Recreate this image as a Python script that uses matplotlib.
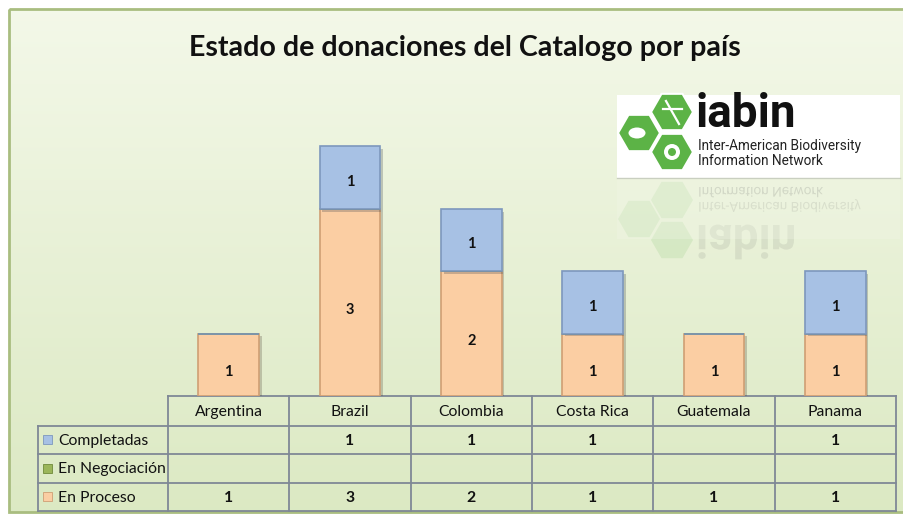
import numpy as np
import matplotlib
matplotlib.use("Agg")
import matplotlib.pyplot as plt
from matplotlib.patches import Rectangle, RegularPolygon, PathPatch, Ellipse, Circle
from matplotlib.textpath import TextPath
from matplotlib.font_manager import FontProperties
from matplotlib.transforms import Affine2D
import matplotlib.patheffects as pe

# ---------------- data ----------------
countries = ["Argentina", "Brazil", "Colombia", "Costa Rica", "Guatemala", "Panama"]
completadas = [0, 1, 1, 1, 0, 1]
negociacion = [0, 0, 0, 0, 0, 0]
proceso = [1, 3, 2, 1, 1, 1]
series_names = ["Completadas", "En Negociación", "En Proceso"]
title = "Estado de donaciones del Catalogo por país"

C_BLUE = "#a7c1e4"; C_BLUE_E = "#7d97bd"
C_GREEN = "#9bb65a"; C_GREEN_E = "#6f8a3a"
C_ORANGE = "#fbcea3"; C_ORANGE_E = "#cf9f74"
GRID = "#7f8896"
FONT = ["Lato", "DejaVu Sans"]
TFS = 11.3

W, H = 904, 516
fig = plt.figure(figsize=(W / 100, H / 100), dpi=100)

# background / decoration axes in pixel coordinates
bg = fig.add_axes([0, 0, 1, 1])
bg.set_xlim(0, W)
bg.set_ylim(H, 0)
bg.axis("off")
grad = np.linspace(0, 1, 256).reshape(-1, 1)
top = np.array([0.955, 0.973, 0.912])
bot = np.array([0.862, 0.914, 0.765])
img = top[None, None, :] * (1 - grad[..., None]) + bot[None, None, :] * grad[..., None]
bg.imshow(img, extent=[9, 912, 512, 9], aspect="auto", zorder=0)
bg.add_patch(Rectangle((9, 9), 903, 503, fill=False, edgecolor="#a9bd80", lw=2, zorder=1))

bg.text(465, 48, title, ha="center", va="center", fontsize=20.6, fontweight="bold",
        family=FONT, color="#111111", zorder=3)

# ---------------- table ----------------
x0, x1 = 168, 896
lab_x0 = 38
col_w = (x1 - x0) / len(countries)
ys = [396, 426, 454, 483, 511]
lw = 1.3
bg.plot([x0, x1], [ys[0], ys[0]], color=GRID, lw=lw, zorder=2)
for y in ys[1:]:
    bg.plot([lab_x0, x1], [y, y], color=GRID, lw=lw, zorder=2)
bg.plot([lab_x0, lab_x0], [ys[1], ys[-1]], color=GRID, lw=lw, zorder=2)
for i in range(len(countries) + 1):
    bg.plot([x0 + i * col_w] * 2, [ys[0], ys[-1]], color=GRID, lw=lw, zorder=2)

for i, c in enumerate(countries):
    cx = x0 + (i + 0.5) * col_w
    bg.text(cx, (ys[0] + ys[1]) / 2 + 1, c, ha="center", va="center", fontsize=TFS,
            family=FONT, color="#111111", zorder=3)

rows = [completadas, negociacion, proceso]
sw_colors = [(C_BLUE, C_BLUE_E), (C_GREEN, C_GREEN_E), (C_ORANGE, C_ORANGE_E)]
for r, (name, vals, (fc, ec)) in enumerate(zip(series_names, rows, sw_colors)):
    yc = (ys[r + 1] + ys[r + 2]) / 2
    bg.add_patch(Rectangle((43, yc - 5), 9, 9, facecolor=fc, edgecolor=ec, lw=0.6, zorder=3))
    bg.text(58, yc + 1, name, ha="left", va="center", fontsize=TFS, family=FONT,
            color="#111111", zorder=3)
    for i, v in enumerate(vals):
        if v:
            bg.text(x0 + (i + 0.5) * col_w, yc + 1, str(v), ha="center", va="center",
                    fontsize=TFS, fontweight="bold", family=FONT, color="#111111", zorder=3)

# ---------------- logo ----------------
GRN = "#5cb346"
bg.add_patch(Rectangle((617, 95), 283, 83, facecolor="white", edgecolor="none", zorder=2))
bg.plot([617, 900], [178, 178], color="#c9cfc0", lw=1, zorder=2)
hexes = [(639, 133), (672, 112), (672, 152)]
for (hx, hy) in hexes:
    bg.add_patch(RegularPolygon((hx, hy), 6, radius=21, orientation=np.pi / 6,
                                facecolor=GRN, edgecolor="white", lw=1.5, zorder=3))
    bg.add_patch(RegularPolygon((hx, 2 * 176 - hy), 6, radius=21, orientation=np.pi / 6,
                                facecolor=GRN, edgecolor="none", alpha=0.13, zorder=3))
# icons (simple white marks)
bg.add_patch(Ellipse((637, 133), 17, 11, facecolor="white", zorder=4))
bg.add_patch(Circle((672, 152), 8, facecolor="white", zorder=4))
bg.add_patch(Circle((672, 152), 4, facecolor=GRN, zorder=5))
bg.plot([666, 679], [101, 124], color="white", lw=1.6, zorder=4)
bg.plot([663, 682], [109, 109], color="white", lw=1.6, zorder=4)

NARROW = ["Liberation Sans Narrow", "Roboto", "DejaVu Sans"]
bg.text(696, 127, "iabin", ha="left", va="baseline", fontsize=33, fontweight="bold",
        family=NARROW, color="#111111", zorder=4)
bg.text(698, 146, "Inter-American Biodiversity", ha="left", va="center", fontsize=9.8,
        family=NARROW, color="#222222", zorder=4)
bg.text(698, 161, "Information Network", ha="left", va="center", fontsize=9.8,
        family=NARROW, color="#222222", zorder=4)

# reflection of the logo text (mirrored vertically)
def mirrored(txt, x, y_axis, y_base, size, weight, fam, alpha):
    fp = FontProperties(family=fam, weight=weight, size=size)
    tp = TextPath((0, 0), txt, prop=fp)
    s = 100 / 72
    tr = Affine2D().scale(s, s).translate(x, 2 * y_axis - y_base)
    return PathPatch(tr.transform_path(tp), facecolor="#444444", edgecolor="none",
                     alpha=alpha, zorder=3)

bg.add_patch(mirrored("Information Network", 698, 176, 165, 9.8, "normal", NARROW, 0.22))
bg.add_patch(mirrored("Inter-American Biodiversity", 698, 176, 150, 9.8, "normal", NARROW, 0.16))
bg.add_patch(mirrored("iabin", 696, 176, 127, 33, "bold", NARROW, 0.1))
bg.add_patch(Rectangle((617, 179), 283, 60, facecolor=(0.95, 0.97, 0.91, 0.3),
                       edgecolor="none", zorder=3.5))

# ---------------- bars ----------------
ax = fig.add_axes([x0 / W, 1 - 396 / H, (x1 - x0) / W, (396 - 84) / H])
ax.set_xlim(-0.5, len(countries) - 0.5)
ax.set_ylim(0, 5)
ax.axis("off")
ax.patch.set_alpha(0)
x = np.arange(len(countries))
shadow = [pe.SimplePatchShadow(offset=(2, -2), alpha=0.25), pe.Normal()]
ax.bar(x, proceso, width=0.5, color=C_ORANGE, edgecolor=C_ORANGE_E, lw=1.2,
       path_effects=shadow, zorder=2)
ax.bar(x, negociacion, width=0.5, bottom=proceso, color=C_GREEN, edgecolor=C_GREEN_E,
       lw=1.2, zorder=2)
bottom2 = [p + n for p, n in zip(proceso, negociacion)]
ax.bar(x, completadas, width=0.5, bottom=bottom2, color=C_BLUE, edgecolor=C_BLUE_E,
       lw=1.2, path_effects=shadow, zorder=2)
for i in range(len(countries)):
    if proceso[i]:
        ax.text(x[i], proceso[i] / 2 - 0.12, str(proceso[i]), ha="center", va="center",
                fontsize=10.5, fontweight="bold", family=FONT, color="#111111", zorder=3)
    if completadas[i]:
        ax.text(x[i], bottom2[i] + completadas[i] / 2 - 0.07, str(completadas[i]),
                ha="center", va="center", fontsize=10.5, fontweight="bold", family=FONT,
                color="#111111", zorder=3)

fig.savefig("out.png", dpi=100)
